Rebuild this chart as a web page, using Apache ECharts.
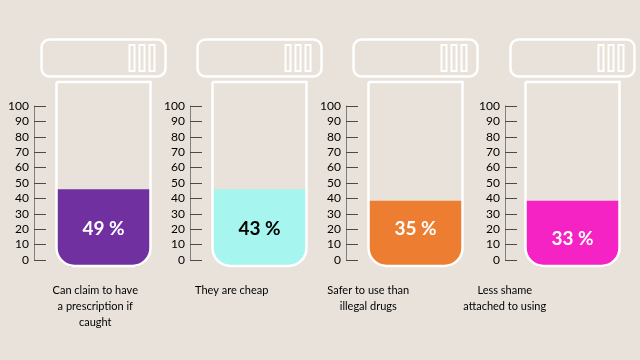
<!DOCTYPE html>
<html><head><meta charset="utf-8">
<script src="https://cdn.jsdelivr.net/npm/echarts@6/dist/echarts.min.js"></script>
<style>html,body{margin:0;padding:0;background:#E8E2DB;}#c{width:640px;height:360px;}</style>
</head><body><div id="c"></div>
<script>
// ---- data ----
const categories = ['Can claim to have\na prescription if\ncaught', 'They are cheap', 'Safer to use than\nillegal drugs', 'Less shame\nattached to using'];
const percentLabels = [49, 43, 35, 33];           // printed percentages
const fillLevels = [46, 46, 38.5, 38.5];           // fill height as read on the 0-100 scale
const axisMin = 0, axisMax = 100, axisStep = 10;

// ---- style ----
const fillColors = ['#7030A0', '#A6F5EE', '#ED7D31', '#F522C4'];
const textColors = ['#ffffff', '#000000', '#ffffff', '#ffffff'];
const gridLefts = [34, 190, 346, 505];
const labelAt = [20, 20, 20, 14];
const FONT = 'Lato, "Open Sans", sans-serif';

const chart = echarts.init(document.getElementById('c'), null, {renderer: 'canvas'});
const grids = [], xAxes = [], yAxes = [], series = [];

categories.forEach((cat, i) => {
  grids.push({left: gridLefts[i], top: 106, width: 139, height: 154});
  xAxes.push({type: 'category', gridIndex: i, data: [cat], show: false});
  yAxes.push({
    type: 'value', gridIndex: i, min: axisMin, max: axisMax, interval: axisStep,
    axisLine: {show: true, lineStyle: {color: '#808080', width: 1}},
    axisTick: {show: true, inside: true, length: 12, lineStyle: {color: '#4a4a4a', width: 1}},
    axisLabel: {margin: 5, color: '#000', fontSize: 12, fontFamily: FONT},
    splitLine: {show: false}
  });
  series.push({
    type: 'custom', xAxisIndex: i, yAxisIndex: i, clip: false,
    data: [[0, fillLevels[i], percentLabels[i]]],
    renderItem: function (params, api) {
      const top = api.coord([0, axisMax]);
      const base = api.coord([0, axisMin]);
      const pt = api.coord([0, api.value(1)]);
      const lab = api.coord([0, labelAt[i]]);
      const cx = pt[0];
      const bodyTop = top[1] - 24, bodyBot = base[1] + 6;
      const half = 47, r = 18;
      const white = {fill: 'none', stroke: '#ffffff', lineWidth: 2.5};
      const children = [
        {type: 'rect', shape: {x: cx - half, y: pt[1], width: half * 2, height: bodyBot + 1 - pt[1], r: [0, 0, r, r]},
         style: {fill: fillColors[i]}},
        {type: 'rect', shape: {x: cx - half, y: bodyTop, width: half * 2, height: bodyBot - bodyTop, r: [0, 0, r, r]},
         style: white},
        {type: 'rect', shape: {x: cx - 62, y: top[1] - 66.5, width: 124, height: 37, r: 8}, style: white}
      ];
      [25, 35, 45].forEach(dx => {
        children.push({type: 'rect', shape: {x: cx + dx + 1, y: top[1] - 61, width: 5, height: 26},
          style: {fill: 'none', stroke: '#ffffff', lineWidth: 2}});
      });
      children.push({type: 'text', x: cx, y: lab[1], style: {
        text: api.value(2) + ' %', fill: textColors[i], align: 'center', verticalAlign: 'middle',
        font: 'bold 19px ' + FONT}});
      return {type: 'group', children: children};
    }
  });
});

// category label row
grids.push({left: 27, top: 270, width: 546, height: 12});
xAxes.push({type: 'category', gridIndex: 4, data: categories,
  axisLine: {show: false}, axisTick: {show: false},
  axisLabel: {interval: 0, margin: 0, color: '#000', fontSize: 11, lineHeight: 16, fontFamily: FONT}});
yAxes.push({type: 'value', gridIndex: 4, show: false});
series.push({type: 'bar', xAxisIndex: 4, yAxisIndex: 4, data: [], silent: true});

chart.setOption({
  backgroundColor: '#E8E2DB',
  animation: false,
  grid: grids, xAxis: xAxes, yAxis: yAxes, series: series
});
</script></body></html>
